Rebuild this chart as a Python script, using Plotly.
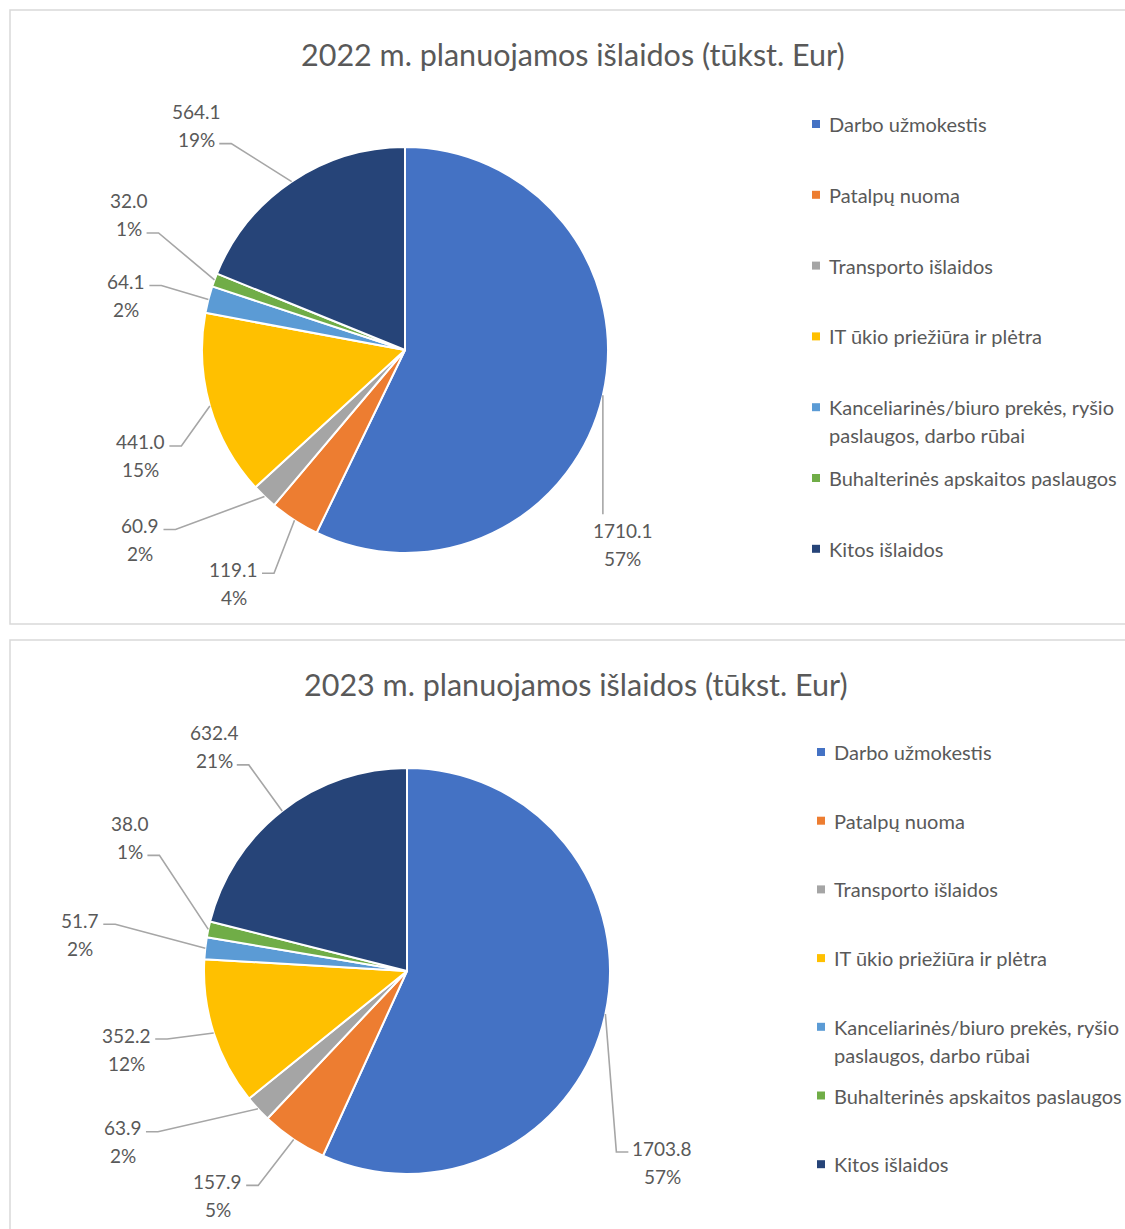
import math
import plotly.graph_objects as go

W, H = 1125, 1229

# ---------------- data ----------------
CATEGORIES = [
    "Darbo užmokestis",
    "Patalpų nuoma",
    "Transporto išlaidos",
    "IT ūkio priežiūra ir plėtra",
    "Kanceliarinės/biuro prekės, ryšio paslaugos, darbo rūbai",
    "Buhalterinės apskaitos paslaugos",
    "Kitos išlaidos",
]
LEGEND_LINES = [
    ["Darbo užmokestis"],
    ["Patalpų nuoma"],
    ["Transporto išlaidos"],
    ["IT ūkio priežiūra ir plėtra"],
    ["Kanceliarinės/biuro prekės, ryšio", "paslaugos, darbo rūbai"],
    ["Buhalterinės apskaitos paslaugos"],
    ["Kitos išlaidos"],
]
VALUES_2022 = [1710.1, 119.1, 60.9, 441.0, 64.1, 32.0, 564.1]
VALUES_2023 = [1703.8, 157.9, 63.9, 352.2, 51.7, 38.0, 632.4]
TITLE_2022 = "2022 m. planuojamos išlaidos (tūkst. Eur)"
TITLE_2023 = "2023 m. planuojamos išlaidos (tūkst. Eur)"

# ---------------- style / layout ----------------
COLORS = ["#4472C4", "#ED7D31", "#A5A5A5", "#FFC000", "#5B9BD5", "#70AD47", "#264478"]
TEXT_COLOR = "#595959"
LEADER_COLOR = "#A6A6A6"
FONT = "Lato"
LABEL_SIZE = 19
LEGEND_SIZE = 20
TITLE_SIZE = 30.5
LINE_GAP = 28

PANELS = [
    dict(values=VALUES_2022, title=TITLE_2022, rect=(10, 10, 1140, 624),
         cx=405, cy=350, r=203, title_x=573, title_y=54,
         leg_mx=816, leg_tx=827, leg_y0=124, leg_step=70.8,
         offsets=[(20, 149), (-61, 63), (-124, 43), (-69, 50), (-82, -4), (-85, -65), (-95, -56)],
         modes=["T", "R1", "R1", "R1", "R1", "R2", "R2"]),
    dict(values=VALUES_2023, title=TITLE_2023, rect=(10, 640, 1140, 1260),
         cx=407, cy=971, r=203, title_x=576, title_y=684,
         leg_mx=821, leg_tx=832, leg_y0=752, leg_step=68.7,
         offsets=[(57, 148), (-76, 56), (-135, 33), (-87, 16), (-125, -14), (-78, -92), (-68, -64)],
         modes=["L1", "R1", "R1", "R1", "R1", "R2", "R2"]),
]


def px(x):
    return x / W


def py(y):
    return 1 - y / H


def text_width(s, size):
    w = 0.0
    for ch in s:
        if ch.isdigit():
            w += 0.58
        elif ch == ".":
            w += 0.26
        elif ch == "%":
            w += 0.80
        else:
            w += 0.5
    return w * size


fig = go.Figure()
shapes = []
annotations = []

for i, p in enumerate(PANELS):
    vals = p["values"]
    total = sum(vals)
    cx, cy, r = p["cx"], p["cy"], p["r"]

    # panel border
    x0, y0, x1, y1 = p["rect"]
    shapes.append(dict(type="rect", xref="paper", yref="paper",
                       x0=px(x0), x1=px(x1), y0=py(y1), y1=py(y0),
                       line=dict(color="#D9D9D9", width=1.5), fillcolor="rgba(0,0,0,0)",
                       layer="below"))

    fig.add_trace(go.Pie(
        labels=CATEGORIES, values=vals, sort=False, direction="clockwise", rotation=0,
        marker=dict(colors=COLORS, line=dict(color="white", width=2)),
        textinfo="none", hoverinfo="label+value+percent", showlegend=False,
        domain=dict(x=[px(cx - r), px(cx + r)], y=[py(cy + r), py(cy - r)]),
    ))

    # title
    annotations.append(dict(text=p["title"], x=px(p["title_x"]), y=py(p["title_y"]),
                            xref="paper", yref="paper", showarrow=False,
                            xanchor="center", yanchor="middle",
                            font=dict(family=FONT, size=TITLE_SIZE, color=TEXT_COLOR)))

    # data labels + leader lines
    cum = 0.0
    for k, v in enumerate(vals):
        frac_mid = (cum + v / 2) / total
        cum += v
        th = 2 * math.pi * frac_mid
        ex = cx + r * math.sin(th)
        ey = cy - r * math.cos(th)
        dx, dy = p["offsets"][k]
        lx, ly = ex + dx, ey + dy
        vtxt = f"{v:.1f}"
        ptxt = f"{round(100 * v / total):d}%"
        lines = [(vtxt, ly - LINE_GAP / 2), (ptxt, ly + LINE_GAP / 2)]
        for t, yy in lines:
            annotations.append(dict(text=t, x=px(lx), y=py(yy), xref="paper", yref="paper",
                                    showarrow=False, xanchor="center", yanchor="middle",
                                    font=dict(family=FONT, size=LABEL_SIZE, color=TEXT_COLOR)))
        mode = p["modes"][k]
        if mode == "T":
            path = f"M {px(ex)} {py(ey)} L {px(ex)} {py(ly - LINE_GAP / 2 - 16)}"
        else:
            idx = 0 if mode.endswith("1") else 1
            t, yy = lines[idx]
            wl = text_width(t, LABEL_SIZE)
            ay = yy + 4
            if mode.startswith("R"):
                sx = lx + wl / 2 + 4
                ex2 = sx + 12
            else:
                sx = lx - wl / 2 - 4
                ex2 = sx - 12
            path = (f"M {px(ex)} {py(ey)} L {px(ex2)} {py(ay)} L {px(sx)} {py(ay)}")
        shapes.append(dict(type="path", xref="paper", yref="paper", path=path,
                           line=dict(color=LEADER_COLOR, width=1.6)))

    # legend
    for k, lines in enumerate(LEGEND_LINES):
        yc = p["leg_y0"] + k * p["leg_step"]
        mx = p["leg_mx"]
        shapes.append(dict(type="rect", xref="paper", yref="paper",
                           x0=px(mx - 4), x1=px(mx + 4), y0=py(yc + 4), y1=py(yc - 4),
                           fillcolor=COLORS[k], line=dict(width=0)))
        for j, t in enumerate(lines):
            annotations.append(dict(text=t, x=px(p["leg_tx"]), y=py(yc + j * LINE_GAP),
                                    xref="paper", yref="paper", showarrow=False,
                                    xanchor="left", yanchor="middle",
                                    font=dict(family=FONT, size=LEGEND_SIZE, color=TEXT_COLOR)))

fig.update_layout(
    width=W, height=H, margin=dict(l=0, r=0, t=0, b=0),
    paper_bgcolor="white", plot_bgcolor="white",
    shapes=shapes, annotations=annotations, showlegend=False,
    font=dict(family=FONT, color=TEXT_COLOR),
)

fig.write_html("out.html", config={"displayModeBar": False},
               post_script="document.body.style.margin='0';")
